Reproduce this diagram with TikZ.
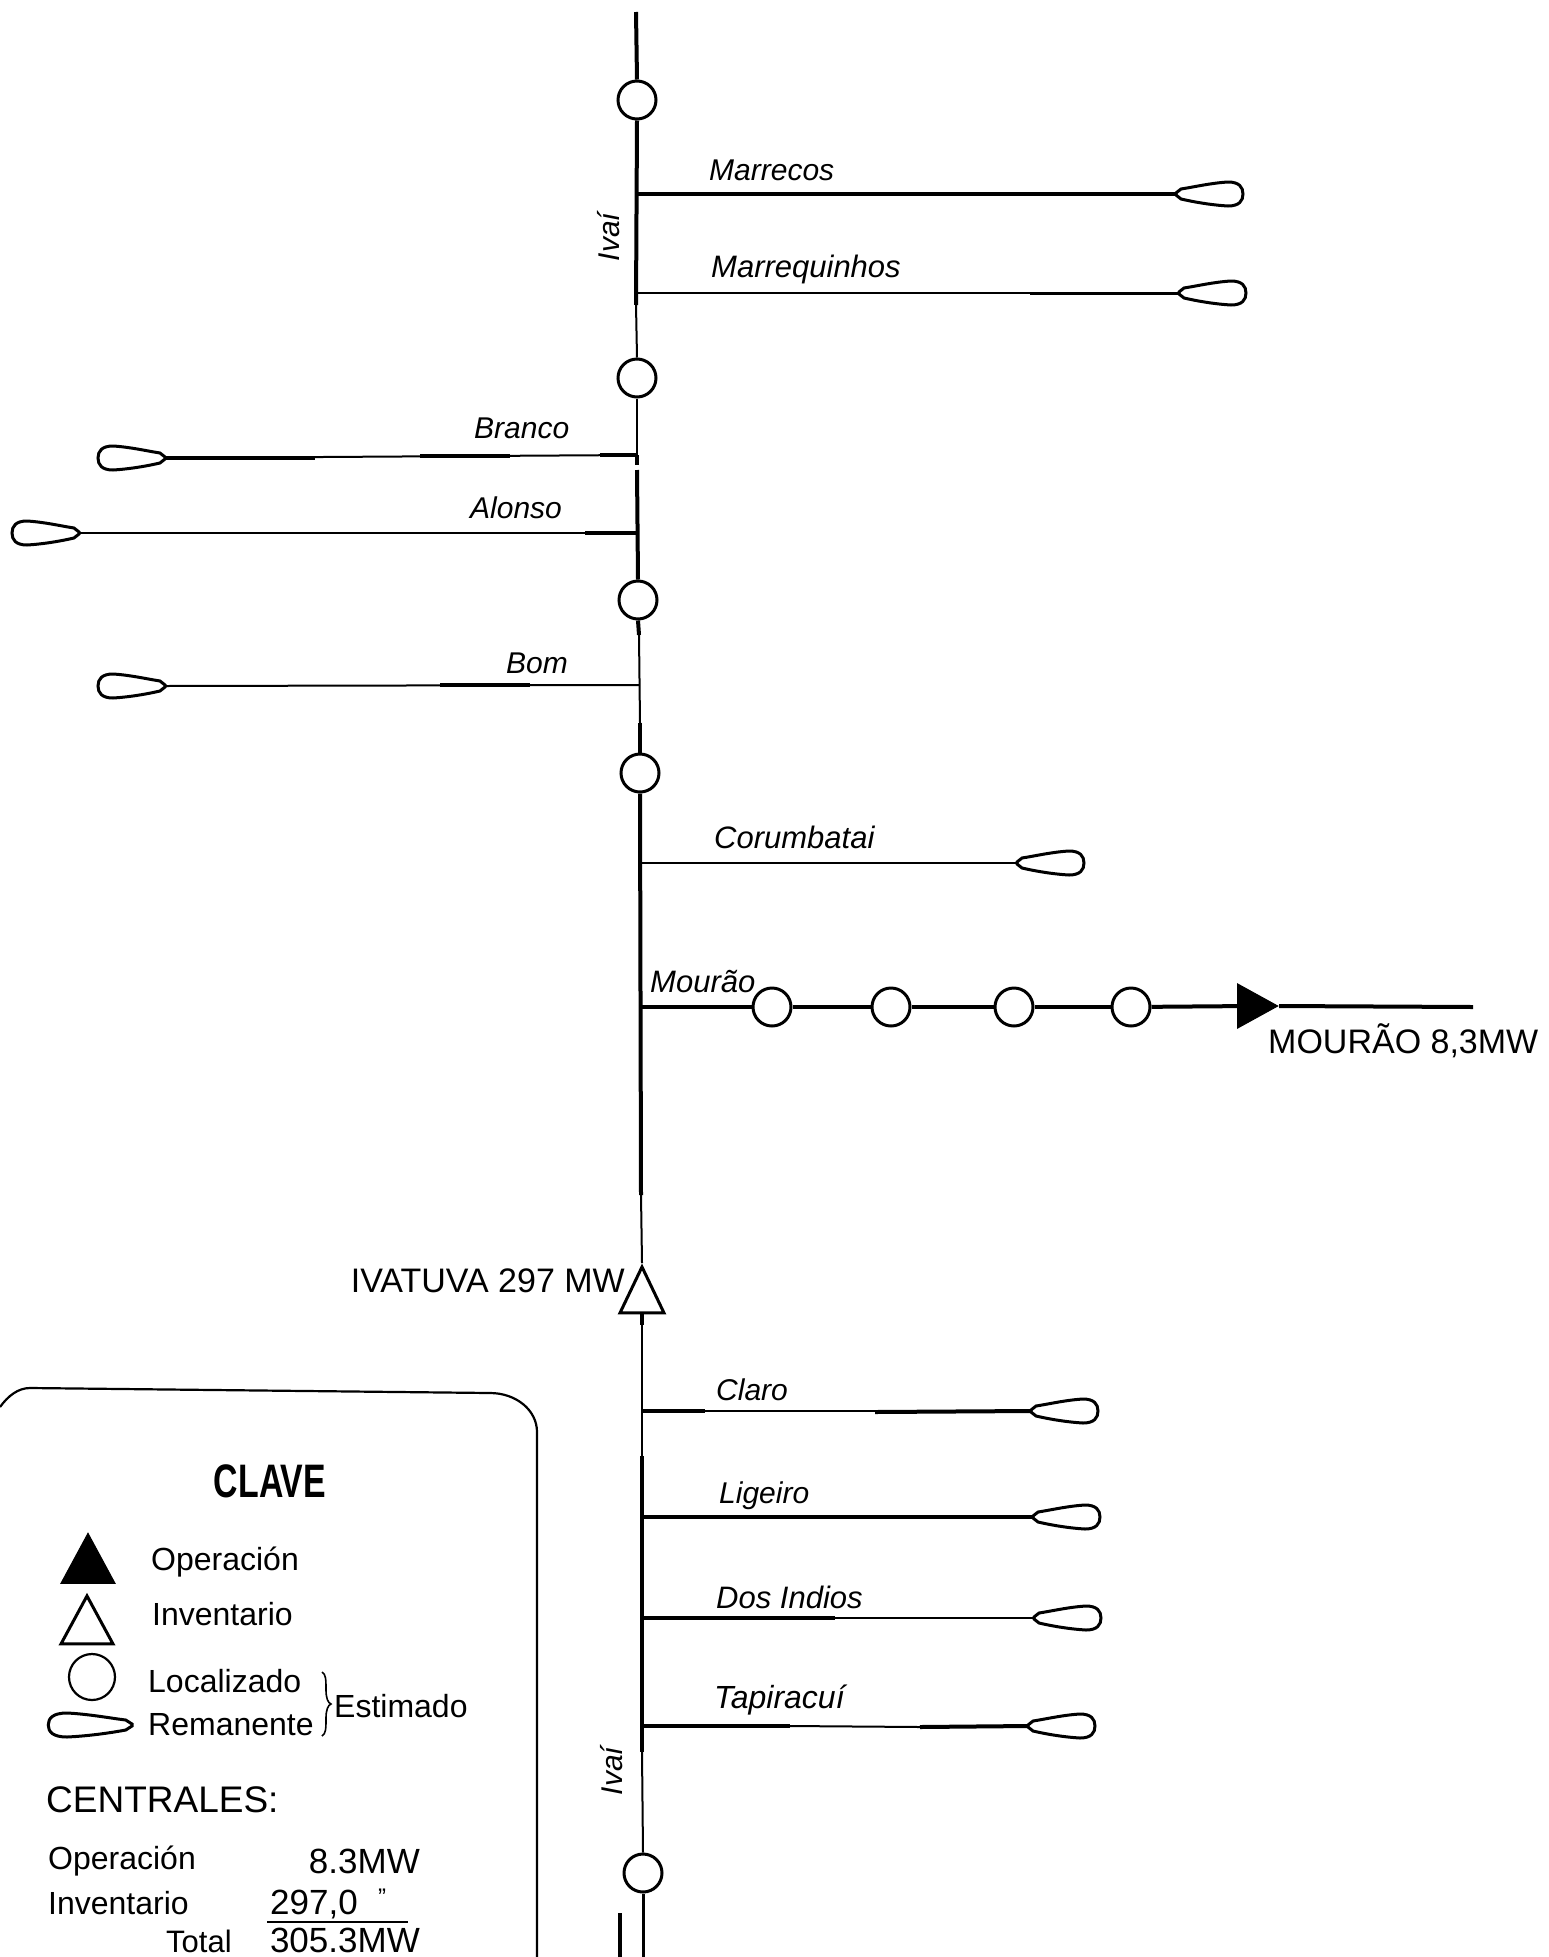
\documentclass[tikz,border=0pt]{standalone}
\usepackage{fontspec}
\setmainfont{Liberation Sans}
\usetikzlibrary{shapes.geometric}
\newcommand{\fs}[1]{\fontsize{#1}{#1}\selectfont}
\tikzset{
  heavyl/.style={line width=4pt},
  finel/.style={line width=2pt},
  midl/.style={line width=3pt},
  site/.style={circle,draw,line width=3pt,fill=white,minimum size=38pt,inner sep=0pt},
  riverlab/.style={font=\fs{30}\itshape,anchor=base west,inner sep=0pt},
  txt/.style={font=\fs{32},anchor=base west,inner sep=0pt},
  txtb/.style={font=\fs{35},anchor=base west,inner sep=0pt},
  opentri/.style={isosceles triangle,isosceles triangle stretches,shape border rotate=90,draw,line width=3pt,fill=white,inner sep=0pt,minimum width=44pt,minimum height=46pt},
  solidtri/.style={isosceles triangle,isosceles triangle stretches,draw,fill=black,line width=1pt,inner sep=0pt},
  tear/.pic={
    \coordinate (-tip) at (0,0);
    \draw[line width=3pt,fill=white] (0,-1) -- (5,-5) .. controls (18,-7) and (35,-11) .. (52,-12)
      .. controls (63,-12) and (67,-7) .. (67,0)
      .. controls (67,7) and (63,12) .. (52,12)
      .. controls (35,11) and (18,8) .. (5,5) -- (0,1) -- cycle;
  }
}
\begin{document}
\begin{tikzpicture}[x=1pt,y=-1pt]
\path[use as bounding box] (0,0) rectangle (1549,1957);
\clip (0,0) rectangle (1549,1957);

% main river points
\coordinate (top) at (636,12);
\node[site] (c1) at (637,100) {};
\coordinate (jMa) at (636,194);
\coordinate (jMq) at (636,293);
\coordinate (m1) at (636,305);
\node[site] (c2) at (637,378) {};
\coordinate (jBr) at (637,455);
\coordinate (m2) at (637,465);
\coordinate (m2a) at (637,470);
\coordinate (jAl) at (637,533);
\node[site] (c3) at (638,600) {};
\coordinate (m3) at (639,635);
\coordinate (jBo) at (639,685);
\coordinate (m4) at (640,723);
\node[site] (c4) at (640,773) {};
\coordinate (jCo) at (640,863);
\coordinate (jMo) at (641,1007);
\coordinate (m5) at (641,1195);
\node[opentri,anchor=apex] (iv) at (642,1263) {};
\coordinate (m6) at (642,1325);
\coordinate (jCl) at (642,1411);
\coordinate (m7) at (642,1456);
\coordinate (jLi) at (642,1517);
\coordinate (jDo) at (642,1618);
\coordinate (jTa) at (642,1726);
\coordinate (m8) at (642,1752);
\node[site] (c5) at (643,1873) {};
\coordinate (bot) at (643,1957);

% teardrops
\pic (tMa) at (1176,194) {tear};
\pic (tMq) at (1179,293) {tear};
\pic[xscale=-1] (tBr) at (165,458) {tear};
\pic[xscale=-1] (tAl) at (79,533) {tear};
\pic[xscale=-1] (tBo) at (165,686) {tear};
\pic (tCo) at (1017,863) {tear};
\pic (tCl) at (1031,1411) {tear};
\pic (tLi) at (1033,1517) {tear};
\pic (tDo) at (1034,1618) {tear};
\pic (tTa) at (1028,1726) {tear};

% main river
\draw[heavyl] (top) -- (c1.north);
\draw[heavyl] (c1.south) -- (m1);
\draw[finel] (m1) -- (c2.north);
\draw[finel] (c2.south) -- (jBr);
\draw[heavyl] (jBr) -- (m2);
\draw[heavyl] (m2a) -- (c3.north);
\draw[heavyl] (c3.south) -- (m3);
\draw[finel] (m3) -- (m4);
\draw[heavyl] (m4) -- (c4.north);
\draw[heavyl] (c4.south) -- (m5);
\draw[finel] (m5) -- (iv.apex);
\draw[heavyl] (iv.south) -- (m6);
\draw[finel] (m6) -- (m7);
\draw[heavyl] (m7) -- (m8);
\draw[finel] (m8) -- (c5.north);
\draw[midl] (c5.south) -- (bot);

% tributaries: fine base line, heavy stretches over it
\coordinate (a1) at (1030,293);
\coordinate (b1) at (315,458); \coordinate (b2) at (420,456); \coordinate (b3) at (510,456); \coordinate (b4) at (600,455);
\coordinate (l1) at (585,533);
\coordinate (o1) at (440,685); \coordinate (o2) at (530,685);
\coordinate (k1) at (705,1411); \coordinate (k2) at (875,1412);
\coordinate (d1) at (835,1618);
\coordinate (p1) at (790,1726); \coordinate (p2) at (920,1727);
\draw[heavyl] (jMa) -- (tMa-tip);
\draw[finel] (jMq) -- (a1);
\draw[midl] (a1) -- (tMq-tip);
\draw[finel] (jBr) -- (tBr-tip);
\draw[heavyl] (tBr-tip) -- (b1);
\draw[heavyl] (b2) -- (b3);
\draw[heavyl] (b4) -- (jBr);
\draw[finel] (jAl) -- (tAl-tip);
\draw[heavyl] (l1) -- (jAl);
\draw[finel] (jBo) -- (tBo-tip);
\draw[heavyl] (o1) -- (o2);
\draw[finel] (jCo) -- (tCo-tip);
\draw[finel] (jCl) -- (tCl-tip);
\draw[heavyl] (jCl) -- (k1);
\draw[heavyl] (k2) -- (tCl-tip);
\draw[heavyl] (jLi) -- (tLi-tip);
\draw[heavyl] (jDo) -- (d1);
\draw[finel] (d1) -- (tDo-tip);
\draw[heavyl] (jTa) -- (p1);
\draw[finel] (p1) -- (p2);
\draw[heavyl] (p2) -- (tTa-tip);

% Mourao
\node[site] (s1) at (772,1007) {};
\node[site] (s2) at (891,1007) {};
\node[site] (s3) at (1014,1007) {};
\node[site] (s4) at (1131,1007) {};
\node[solidtri,anchor=apex,minimum width=44pt,minimum height=40pt] (pl) at (1279,1006) {};
\coordinate (mEnd) at (1473,1007);
\draw[heavyl] (jMo) -- (s1);
\draw[heavyl] (s1) -- (s2);
\draw[heavyl] (s2) -- (s3);
\draw[heavyl] (s3) -- (s4);
\draw[heavyl] (s4) -- (pl);
\draw[heavyl] (pl.apex) -- (mEnd);

% river labels
\node[riverlab] (nMa) at (709,180) {Marrecos};
\node[riverlab,font=\fs{31}\itshape] (nMq) at (711,277) {Marrequinhos};
\node[riverlab] (nBr) at (474,438) {Branco};
\node[riverlab] (nAl) at (470,518) {Alonso};
\node[riverlab] (nBo) at (506,673) {Bom};
\node[riverlab,font=\fs{31}\itshape] (nCo) at (714,848) {Corumbatai};
\node[riverlab,font=\fs{31}\itshape] (nMo) at (650,992) {Mourão};
\node[riverlab] (nCl) at (716,1400) {Claro};
\node[riverlab] (nLi) at (719,1503) {Ligeiro};
\node[riverlab,font=\fs{31}\itshape] (nDo) at (716,1608) {Dos Indios};
\node[riverlab,font=\fs{32}\itshape] (nTa) at (714,1708) {Tapiracuí};
\node[font=\fs{30}\itshape,rotate=90,inner sep=0pt] (nIv1) at (609,237) {Ivaí};
\node[font=\fs{30}\itshape,rotate=90,inner sep=0pt] (nIv2) at (612,1771) {Ivaí};
\node[font=\fs{34},anchor=base west,inner sep=0pt] (nMw) at (1268,1053) {MOURÃO 8,3MW};
\node[font=\fs{34},anchor=base east,inner sep=0pt] (nIv) at (625,1292) {IVATUVA 297 MW};

% legend
\draw[line width=2.2pt] (0,1407) .. controls (8,1396) and (18,1388) .. (30,1388) -- (490,1393)
  .. controls (516,1393) and (537,1410) .. (537,1432) -- (537,1957);
\node[font=\fs{47}\bfseries,xscale=.72,anchor=base,inner sep=0pt] (lT) at (270,1497) {CLAVE};
\node[solidtri,shape border rotate=90,anchor=apex,minimum width=54pt,minimum height=50pt] (lA) at (88,1532) {};
\node[opentri,anchor=apex,minimum width=52pt,minimum height=48pt] (lB) at (87,1592) {};
\node[site,minimum size=46pt,line width=2.2pt] (lC) at (92,1677) {};
\pic[xscale=-1.25] (lD) at (132,1725) {tear};
\node[txt] (l1t) at (151,1570) {Operación};
\node[txt] (l2t) at (152,1625) {Inventario};
\node[txt] (l3t) at (148,1692) {Localizado};
\node[txt] (l4t) at (148,1735) {Remanente};
\draw[line width=1.6pt] (322,1672) .. controls (326,1674) and (326,1680) .. (326,1690)
  .. controls (326,1698) and (328,1703) .. (331,1704)
  .. controls (328,1705) and (326,1710) .. (326,1718)
  .. controls (326,1728) and (326,1734) .. (322,1736);
\node[txt] (l5t) at (334,1717) {Estimado};
\node[font=\fs{37},anchor=base west,inner sep=0pt] (lH) at (46,1812) {CENTRALES:};
\node[txt] (l6t) at (48,1869) {Operación};
\node[txtb,anchor=base east] (l6v) at (420,1873) {8.3MW};
\node[txt] (l7t) at (48,1914) {Inventario};
\node[txtb] (l7v) at (270,1914) {297,0};
\node[font=\fs{24},anchor=base west,inner sep=0pt] (l7q) at (378,1905) {"};
\coordinate (r1) at (267,1922);
\coordinate (r2) at (408,1922);
\draw[line width=2pt] (r1) -- (r2);
\node[font=\fs{31},anchor=base west,inner sep=0pt] (l8t) at (166,1952) {Total};
\node[txtb,anchor=base east] (l8v) at (420,1952) {305.3MW};
\coordinate (e1) at (620,1913);
\coordinate (e2) at (620,1957);
\draw[line width=4pt] (e1) -- (e2);
\end{tikzpicture}
\end{document}
